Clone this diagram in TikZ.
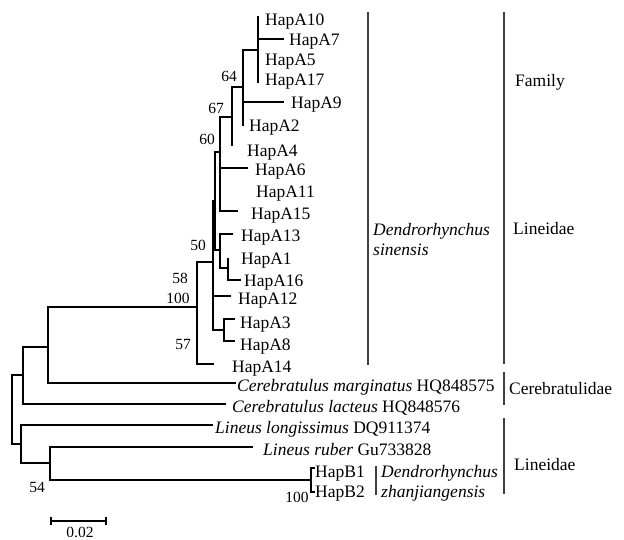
\documentclass[tikz,border=0pt]{standalone}
\usepackage{fontspec}
\setmainfont{Liberation Serif}
\newcommand{\tedge}[2]{\draw[br] (#1 |- #2) -- (#2);}
\newcommand{\tvline}[3]{\draw[br] (#1 |- #2) -- (#1 |- #3);}
\begin{document}
\begin{tikzpicture}[x=1pt,y=-1pt,
  br/.style={line width=1.4pt, line cap=rect},
  bar/.style={line width=1.3pt, draw=black!75},
  tip/.style={anchor=base west, inner sep=0pt, font=\fontsize{17.5}{20}\selectfont},
  grp/.style={anchor=north west, inner sep=0pt, align=left, font=\fontsize{17.5}{20}\selectfont\itshape},
  boot/.style={inner sep=0pt, font=\fontsize{15.5}{17}\selectfont}]
\useasboundingbox (0,0) rectangle (624,540);
% ---- tree coordinates ----
\coordinate (n258) at (258,50);
\coordinate (tA10) at (258,17);
\coordinate (tA7) at (283,39);
\coordinate (tA5) at (258,60);
\coordinate (tA17) at (258,82);
\coordinate (n243) at (243,87);
\coordinate (tA9) at (283,102);
\coordinate (tA2) at (243,125);
\coordinate (n232) at (232,117);
\coordinate (tA4) at (232,145);
\coordinate (n220a) at (220,152);
\coordinate (tA6) at (247,168);
\coordinate (tA15) at (237,211);
\coordinate (n215) at (215,201);
\coordinate (n220b) at (220,250);
\coordinate (tA13) at (232,234);
\coordinate (n228) at (228,268);
\coordinate (tA1) at (228,259);
\coordinate (tA16) at (240,280);
\coordinate (n213) at (213,262);
\coordinate (tA12) at (230,296);
\coordinate (n224) at (224,330);
\coordinate (tA3) at (234,319);
\coordinate (tA8) at (234,341);
\coordinate (n197) at (197,307);
\coordinate (tA14) at (213,364);
\coordinate (n48) at (48,347);
\coordinate (tCm) at (235,383);
\coordinate (n23) at (23,375);
\coordinate (tCl) at (225,404);
\coordinate (n21) at (21,444);
\coordinate (tLl) at (212,425);
\coordinate (n50) at (50,463);
\coordinate (tLr) at (252,447);
\coordinate (nB) at (311,480);
\coordinate (tB1) at (314,468);
\coordinate (tB2) at (314,492);
\coordinate (n12) at (12,410);
% ---- verticals ----
\tvline{n258}{tA10}{tA17}
\tvline{n243}{n258}{tA2}
\tvline{n232}{n243}{tA4}
\tvline{n220a}{n232}{tA15}
\tvline{n220b}{tA13}{n228}
\tvline{n228}{tA1}{tA16}
\tvline{n215}{n220a}{n220b}
\tvline{n213}{n215}{n224}
\tvline{n224}{tA3}{tA8}
\tvline{n197}{n213}{tA14}
\tvline{n48}{n197}{tCm}
\tvline{n23}{n48}{tCl}
\tvline{n21}{tLl}{n50}
\tvline{n50}{tLr}{nB}
\tvline{nB}{tB1}{tB2}
\tvline{n12}{n23}{n21}
% ---- horizontals ----
\tedge{n258}{tA7}
\tedge{n243}{n258}
\tedge{n243}{tA9}
\tedge{n232}{n243}
\tedge{n220a}{n232}
\tedge{n220a}{tA6}
\tedge{n220a}{tA15}
\tedge{n220b}{tA13}
\tedge{n220b}{n228}
\tedge{n228}{tA16}
\tedge{n215}{n220a}
\tedge{n215}{n220b}
\tedge{n213}{n215}
\tedge{n213}{tA12}
\tedge{n213}{n224}
\tedge{n224}{tA3}
\tedge{n224}{tA8}
\tedge{n197}{n213}
\tedge{n197}{tA14}
\tedge{n48}{n197}
\tedge{n48}{tCm}
\tedge{n23}{n48}
\tedge{n23}{tCl}
\tedge{n21}{tLl}
\tedge{n21}{n50}
\tedge{n50}{tLr}
\tedge{n50}{nB}
\tedge{nB}{tB1}
\tedge{nB}{tB2}
\tedge{n12}{n23}
\tedge{n12}{n21}
% ---- tip labels ----
\node[tip] (lA10) at (265,26) {HapA10};
\node[tip] (lA7) at (289,46) {HapA7};
\node[tip] (lA5) at (265,66) {HapA5};
\node[tip] (lA17) at (265,86) {HapA17};
\node[tip] (lA9) at (291,109) {HapA9};
\node[tip] (lA2) at (249,132) {HapA2};
\node[tip] (lA4) at (247,157) {HapA4};
\node[tip] (lA6) at (255,176) {HapA6};
\node[tip] (lA11) at (256,198) {HapA11};
\node[tip] (lA15) at (251,220) {HapA15};
\node[tip] (lA13) at (241,242) {HapA13};
\node[tip] (lA1) at (241,265) {HapA1};
\node[tip] (lA16) at (244,287) {HapA16};
\node[tip] (lA12) at (238,305) {HapA12};
\node[tip] (lA3) at (240,328) {HapA3};
\node[tip] (lA8) at (240,350) {HapA8};
\node[tip] (lA14) at (232,372) {HapA14};
\node[tip] (lCm) at (237,391) {\itshape Cerebratulus marginatus\upshape\ HQ848575};
\node[tip] (lCl) at (232,412) {\itshape Cerebratulus lacteus\upshape\ HQ848576};
\node[tip] (lLl) at (215,433) {\itshape Lineus longissimus\upshape\ DQ911374};
\node[tip] (lLr) at (263,455) {\itshape Lineus ruber\upshape\ Gu733828};
\node[tip] (lB1) at (315,477) {HapB1};
\node[tip] (lB2) at (315,497) {HapB2};
% ---- bootstrap values ----
\node[boot] (b64) at (229,76) {64};
\node[boot] (b67) at (216,108) {67};
\node[boot] (b60) at (207,139) {60};
\node[boot] (b50) at (198,245) {50};
\node[boot] (b58) at (180,278) {58};
\node[boot] (b100a) at (178,298) {100};
\node[boot] (b57) at (183,345) {57};
\node[boot] (b54) at (37,487) {54};
\node[boot] (b100b) at (297,497) {100};
% ---- group bars and names ----
\draw[bar] (368,12) -- (368,365);
\node[grp] (gS) at (373,223) {Dendrorhynchus\\sinensis};
\draw[bar] (376,466) -- (376,495);
\node[grp] (gZ) at (381,465) {Dendrorhynchus\\zhanjiangensis};
\draw[bar] (504,12) -- (504,364);
\draw[bar] (504,372) -- (504,405);
\draw[bar] (504,418) -- (504,494);
\node[tip] (fam) at (515,87) {Family};
\node[tip] (fL1) at (513,235) {Lineidae};
\node[tip] (fC) at (509,394) {Cerebratulidae};
\node[tip] (fL2) at (514,470) {Lineidae};
% ---- scale bar ----
\coordinate (s1) at (51,521);
\coordinate (s2) at (106,521);
\draw[line width=1.3pt] (s1) -- (s2);
\draw[line width=1.3pt] ([yshift=-4pt]s1) -- ([yshift=4pt]s1);
\draw[line width=1.3pt] ([yshift=-4pt]s2) -- ([yshift=4pt]s2);
\node[boot] (sl) at (80,532) {0.02};
\end{tikzpicture}
\end{document}
